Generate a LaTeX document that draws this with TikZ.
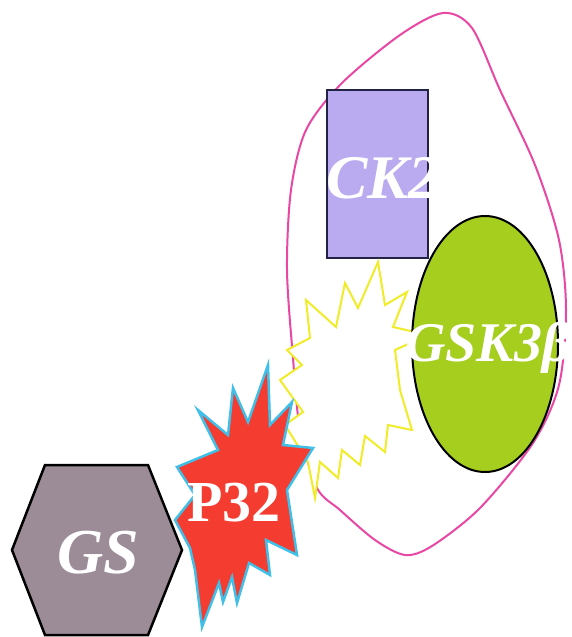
\documentclass[tikz,border=0pt]{standalone}
\usepackage{fontspec}
\setmainfont{Liberation Serif}
\begin{document}
\begin{tikzpicture}[x=1pt,y=-1pt,
  lbl/.style={text=white,font=\bfseries\itshape\fontsize{62}{64}\selectfont,inner sep=0pt},
  lblup/.style={text=white,font=\bfseries\fontsize{58}{60}\selectfont,inner sep=0pt}]
\definecolor{hexfill}{RGB}{156,140,152}
\definecolor{redstar}{RGB}{244,60,48}
\definecolor{cyanline}{RGB}{64,192,232}
\definecolor{lav}{RGB}{186,170,240}
\definecolor{lavline}{RGB}{34,34,68}
\definecolor{grn}{RGB}{166,206,30}
\definecolor{ylw}{RGB}{240,236,40}
\definecolor{pnk}{RGB}{232,72,164}
\useasboundingbox (0,0) rectangle (572,637);
\fill[white] (0,0) rectangle (572,637);
% pink membrane
\draw[pnk,line width=2pt] plot[smooth cycle] coordinates {
 (293,358) (287,270) (291,190) (306,130) (342,83) (400,35) (443,13)
 (472,28) (500,90) (535,165) (559,240) (566,310) (559,385) (533,443)
 (480,508) (432,546) (405,555) (375,540) (340,510) (317,488) (300,430)};
% CK2 box
\draw[fill=lav,draw=lavline,line width=2pt] (327,90) rectangle (428,258);
\node[lbl] (ck2) at (383,178) {CK2};
% yellow burst
\draw[ylw,fill=white,line width=2pt,line join=miter] (378,262) -- (385,305) -- (407,292) -- (393,327)
 -- (428,335) -- (395,350) -- (400,390) -- (412,430) -- (388,425) -- (385,452) -- (365,436)
 -- (360,465) -- (342,450) -- (338,478) -- (320,462) -- (315,498) -- (308,462) -- (285,425)
 -- (303,412) -- (280,380) -- (302,365) -- (287,350) -- (310,338) -- (306,300) -- (336,327)
 -- (345,283) -- (358,308) -- cycle;
% GSK3 ellipse
\draw[fill=grn,draw=black,line width=2pt] (485,344) ellipse [x radius=73,y radius=128];
\node[lbl,font=\bfseries\itshape\fontsize{56}{58}\selectfont] (gsk) at (488,348) {GSK3β};
% P32 burst
\draw[fill=redstar,draw=cyanline,line width=2.5pt,line join=miter]
 (177,467) -- (218,450) -- (198,410) -- (228,435) -- (233,388) -- (248,422) -- (268,365)
 -- (270,425) -- (292,402) -- (283,445) -- (313,448) -- (287,490) -- (297,555) -- (266,540)
 -- (270,575) -- (249,563) -- (237,603) -- (232,577) -- (223,602) -- (219,583) -- (202,627)
 -- (195,570) -- (190,548) -- (175,520) -- (195,495) -- cycle;
\node[lblup] (p32) at (234,503) {P32};
% GS hexagon
\draw[fill=hexfill,draw=black,line width=2.5pt,line join=miter]
 (12,550) -- (45,465) -- (148,465) -- (182,550) -- (148,635) -- (45,635) -- cycle;
\node[lbl,font=\bfseries\itshape\fontsize{64}{66}\selectfont] (gs) at (98,553) {GS};
\end{tikzpicture}
\end{document}
